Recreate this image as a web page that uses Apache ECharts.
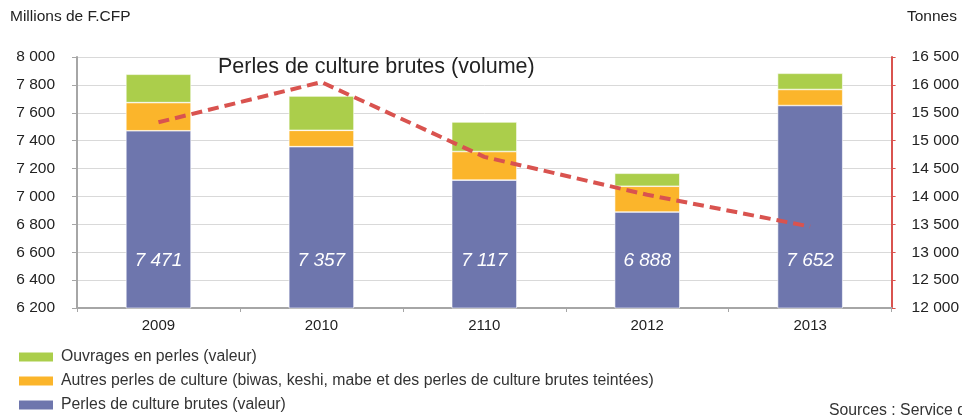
<!DOCTYPE html>
<html>
<head>
<meta charset="utf-8">
<script src="https://cdn.jsdelivr.net/npm/echarts@6/dist/echarts.min.js"></script>
<style>
html,body{margin:0;padding:0;background:#fff;}
#chart{width:962px;height:416px;}
</style>
</head>
<body>
<div id="chart"></div>
<script>
const categories = ['2009', '2010', '2110', '2012', '2013'];
const perlesBrutesValeur = [7471, 7357, 7117, 6888, 7652];
const autresPerles = [202, 117, 205, 185, 115];
const ouvrages = [203, 246, 212, 93, 116];
const perlesBrutesVolume = [15330, 16050, 14710, 14030, 13460];
const leftTicks = { min: 6200, max: 8000, interval: 200 };
const rightTicks = { min: 12000, max: 16500, interval: 500 };

const fmt = v => String(Math.round(v)).replace(/\B(?=(\d{3})+(?!\d))/g, ' ');
const FONT = '"Liberation Sans", Arial, sans-serif';

const chart = echarts.init(document.getElementById('chart'), null, { renderer: 'canvas' });
chart.setOption({
  animation: false,
  textStyle: { fontFamily: FONT },
  title: {
    text: 'Perles de culture brutes (volume)',
    left: 213, top: 51,
    textStyle: { fontFamily: FONT, fontSize: 21.5, fontWeight: 'normal', color: '#222' }
  },
  grid: { left: 77, right: 69, top: 57, bottom: 108, containLabel: false },
  legend: {
    orient: 'vertical', left: 17, top: 349, padding: 0,
    itemWidth: 36, itemHeight: 11, itemGap: 8,
    icon: 'rect',
    textStyle: { fontFamily: FONT, fontSize: 15.8, color: '#333', padding: [0, 0, 0, 2] },
    data: ['Ouvrages en perles (valeur)',
           'Autres perles de culture (biwas, keshi, mabe et des perles de culture brutes teintées)',
           'Perles de culture brutes (valeur)']
  },
  graphic: [
    { type: 'text', left: 10, top: 9, style: { text: 'Millions de F.CFP', fontFamily: FONT, fontSize: 15.5, fill: '#222' } },
    { type: 'text', left: 907, top: 9, style: { text: 'Tonnes', fontFamily: FONT, fontSize: 15.5, fill: '#222' } },
    { type: 'text', left: 829, top: 403, style: { text: 'Sources : Service d', fontFamily: FONT, fontSize: 15.8, fill: '#333' } }
  ],
  xAxis: {
    type: 'category', data: categories,
    axisLine: { lineStyle: { color: '#a6a6a6', width: 2 } },
    axisTick: { show: true, length: 4, lineStyle: { color: '#a6a6a6' } },
    axisLabel: { fontSize: 15, color: '#222', margin: 10, fontFamily: FONT }
  },
  yAxis: [
    {
      type: 'value', min: leftTicks.min, max: leftTicks.max, interval: leftTicks.interval,
      axisLine: { show: true, lineStyle: { color: '#a6a6a6', width: 2 } },
      axisTick: { show: true, length: 5, lineStyle: { color: '#a6a6a6' } },
      axisLabel: { fontSize: 15.5, color: '#222', margin: 22, formatter: fmt, fontFamily: FONT },
      splitLine: { lineStyle: { color: '#d9d9d9', width: 1 } }
    },
    {
      type: 'value', min: rightTicks.min, max: rightTicks.max, interval: rightTicks.interval,
      position: 'right',
      axisLine: { show: true, lineStyle: { color: '#d9534f', width: 2 } },
      axisTick: { show: true, inside: false, length: 4, lineStyle: { color: '#d9534f' } },
      axisLabel: { fontSize: 15.5, color: '#222', margin: 20, formatter: fmt, fontFamily: FONT },
      splitLine: { show: false }
    }
  ],
  series: [
    {
      name: 'Perles de culture brutes (valeur)', type: 'bar', stack: 'v', data: perlesBrutesValeur,
      barWidth: '40%',
      itemStyle: { color: '#6e76ad', borderColor: '#ffffff', borderWidth: 0.6 },
      label: {
        show: true, position: 'insideBottom', distance: 38, formatter: p => fmt(p.value),
        color: '#fff', fontSize: 19, fontStyle: 'italic', fontFamily: FONT
      }
    },
    {
      name: 'Autres perles de culture (biwas, keshi, mabe et des perles de culture brutes teintées)',
      type: 'bar', stack: 'v', data: autresPerles,
      itemStyle: { color: '#fbb52b', borderColor: '#ffffff', borderWidth: 0.6 }
    },
    {
      name: 'Ouvrages en perles (valeur)', type: 'bar', stack: 'v', data: ouvrages,
      itemStyle: { color: '#abce4b', borderColor: '#ffffff', borderWidth: 0.6 }
    },
    {
      name: 'Perles de culture brutes (volume)', type: 'line', yAxisIndex: 1, data: perlesBrutesVolume,
      showSymbol: false, symbol: 'none',
      lineStyle: { color: '#d9534f', width: 4, type: [11, 6] },
      z: 5
    }
  ]
});
</script>
</body>
</html>
